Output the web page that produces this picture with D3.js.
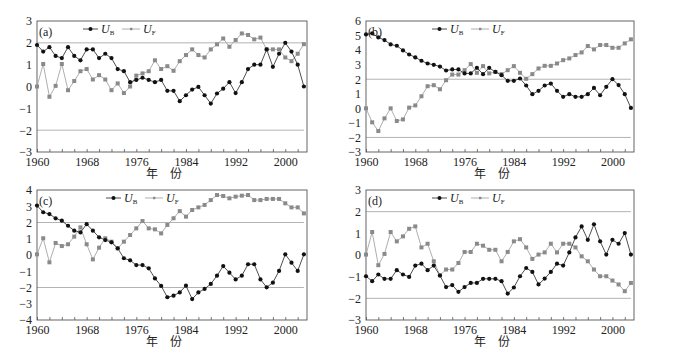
<!DOCTYPE html>
<html>
<head>
<meta charset="UTF-8">
<title>UB UF</title>
<script src="https://cdn.jsdelivr.net/npm/d3@7/dist/d3.min.js"></script>
<style>
  body { margin: 0; background: #fff; }
  svg { display: block; }
  .tick text { fill: #222; }
  .tick line { stroke: #555; stroke-width: 0.8px; }
  .domain { display: none; }
  .frame { fill: none; stroke: #555; stroke-width: 0.9px; }
  .ref { stroke: #aaa; stroke-width: 0.9px; }
  .ub { fill: none; stroke: #222; stroke-width: 0.8px; }
  .uf { fill: none; stroke: #999; stroke-width: 0.8px; }
</style>
</head>
<body>
<div id="chart"></div>
<script>
// years 1960-2003
var years = d3.range(1960, 2004);
var xTickLabels = [1960, 1968, 1976, 1984, 1992, 2000];

var aUB = [1.9, 1.6, 1.8, 1.4, 1.3, 1.8, 1.4, 1.2, 1.7, 1.7, 1.3, 1.5, 1.3, 0.8, 0.7, 0.2, 0.3, 0.4, 0.3, 0.2, 0.3, -0.2,
  -0.2, -0.67, -0.4, -0.14, -0.02, -0.4, -0.78, -0.32, -0.1, 0.2, -0.3, 0.2, 0.8, 1.0, 1.0, 1.7, 0.9, 1.5, 2.0, 1.6, 1.0, 0.0];
var aUF = [0, 1.03, -0.47, 0.03, 1.03, -0.17, 0.25, 0.7, 0.8, 0.32, 0.52, 0.32, -0.17, 0.14, -0.3, 0.0, 0.5, 0.6, 0.7, 1.2, 0.8, 0.93,
  0.72, 1.16, 1.44, 1.7, 1.44, 1.33, 1.7, 1.93, 2.2, 1.82, 2.13, 2.43, 2.36, 2.16, 2.24, 1.7, 1.7, 1.7, 1.33, 1.16, 1.5, 1.94];

var bUB = [5.08, 5.15, 4.87, 4.69, 4.39, 4.3, 3.98, 3.7, 3.5, 3.27, 3.08, 2.99, 2.87, 2.6, 2.67, 2.67, 2.4, 2.4, 2.78, 2.35, 2.78, 2.5,
  2.28, 1.89, 1.89, 2.05, 1.57, 0.97, 1.2, 1.57, 1.7, 1.2, 0.79, 0.97, 0.79, 0.79, 0.97, 1.4, 0.9, 1.48, 2.0, 1.6, 0.97, 0.03];
var bUF = [0, -0.96, -1.56, -0.69, 0, -0.87, -0.76, 0.05, 0.2, 0.83, 1.52, 1.59, 1.31, 1.93, 2.32, 2.32, 2.62, 3.04, 2.44, 2.9, 2.4, 2.5,
  2.35, 2.62, 2.9, 2.44, 2.03, 2.35, 2.74, 2.92, 2.92, 3.08, 3.31, 3.43, 3.66, 3.84, 4.28, 4.05, 4.35, 4.35, 4.16, 4.16, 4.46, 4.74];

var cUB = [3.04, 2.63, 2.52, 2.26, 2.11, 1.8, 1.5, 1.39, 1.9, 1.5, 1.09, 0.92, 0.78, 0.41, -0.2, -0.33, -0.62, -0.62, -0.82, -1.44, -1.9, -2.6,
  -2.5, -2.3, -1.89, -2.71, -2.3, -2.09, -1.78, -1.27, -0.68, -1.09, -1.5, -1.27, -0.57, -0.57, -1.5, -1.99, -1.7, -0.98, 0.04, -0.47, -0.98, 0.04];
var cUF = [0.04, 1.03, -0.45, 0.74, 0.55, 0.66, 1.13, 1.7, 0.66, -0.27, 0.45, 1.03, 0.82, 0.41, 0.82, 1.23, 1.64, 2.09, 1.64, 1.58, 1.33, 1.85,
  2.26, 2.7, 2.36, 2.77, 2.93, 3.08, 3.38, 3.69, 3.63, 3.49, 3.59, 3.65, 3.69, 3.38, 3.38, 3.45, 3.45, 3.45, 3.18, 2.93, 2.93, 2.56];

var dUB = [-0.98, -1.21, -0.9, -1.1, -1.1, -0.7, -0.9, -1.01, -0.49, -0.4, -0.7, -0.49, -0.95, -1.48, -1.39, -1.7, -1.48, -1.29, -1.29, -1.1, -1.1, -1.1,
  -1.21, -1.78, -1.5, -0.98, -0.6, -0.78, -1.36, -1.09, -0.78, -0.4, -0.49, 0.12, 0.81, 1.32, 0.7, 1.42, 0.63, 0.02, 0.7, 0.52, 1.01, 0.02];
var dUF = [0.02, 1.06, -0.47, 0.05, 1.06, 0.63, 0.86, 1.21, 1.32, 0.35, 0.52, -0.29, -0.93, -0.67, -0.67, -0.37, 0.14, 0.14, 0.52, 0.43, 0.24, 0.24,
  -0.29, 0.14, 0.63, 0.73, 0.35, -0.18, 0.02, 0.12, 0.52, 0.12, 0.52, 0.52, 0.35, -0.06, -0.29, -0.67, -0.98, -0.98, -1.18, -1.36, -1.67, -1.29];

var width = 697;
var height = 356;
var serif = "'Liberation Serif', 'DejaVu Serif', serif";

var svg = d3.select("#chart").append("svg")
  .attr("width", width)
  .attr("height", height);

function drawPanel(p) {
  var g = svg.append("g").attr("transform", "translate(" + p.left + "," + p.top + ")");
  var w = p.w, h = p.h;

  var x = d3.scaleLinear().domain([1960, 2003.5]).range([0, w]);
  var y = d3.scaleLinear().domain(p.yDomain).range([h, 0]);

  // +/-2 reference lines
  g.selectAll(".ref").data([2, -2]).enter().append("line")
    .attr("class", "ref")
    .attr("x1", x(1960)).attr("x2", x(2003))
    .attr("y1", function(d) { return y(d); })
    .attr("y2", function(d) { return y(d); });

  g.append("rect").attr("class", "frame")
    .attr("width", w).attr("height", h);

  g.append("g")
    .attr("transform", "translate(0," + h + ")")
    .style("font-family", serif).style("font-size", "12px")
    .call(d3.axisBottom(x)
      .tickValues(d3.range(1960, 2004, 2))
      .tickSizeInner(-3).tickSizeOuter(0).tickPadding(5)
      .tickFormat(function(d) { return xTickLabels.indexOf(d) >= 0 ? d : ""; }))
    .attr("font-family", null).attr("font-size", null);

  g.append("g")
    .style("font-family", serif).style("font-size", "12px")
    .call(d3.axisLeft(y)
      .tickValues(d3.range(p.yDomain[0], p.yDomain[1] + 1))
      .tickSize(0).tickPadding(5)
      .tickFormat(function(d) { return d < 0 ? "\u2212" + Math.abs(d) : d; }))
    .attr("font-family", null).attr("font-size", null);

  var line = d3.line()
    .x(function(d, i) { return x(years[i]); })
    .y(function(d) { return y(d); });

  g.append("path").attr("class", "uf").attr("d", line(p.uf));
  g.append("path").attr("class", "ub").attr("d", line(p.ub));

  g.selectAll(".ufp").data(p.uf).enter().append("rect")
    .attr("x", function(d, i) { return x(years[i]) - 2; })
    .attr("y", function(d) { return y(d) - 2; })
    .attr("width", 4).attr("height", 4)
    .attr("fill", "#8a8a8a");

  g.selectAll(".ubp").data(p.ub).enter().append("circle")
    .attr("cx", function(d, i) { return x(years[i]); })
    .attr("cy", function(d) { return y(d); })
    .attr("r", 2.1)
    .attr("fill", "#111");

  // panel label
  g.append("text")
    .attr("x", 2).attr("y", 15)
    .style("font-family", serif).style("font-size", "12px")
    .attr("fill", "#222")
    .text(p.label);

  // legend
  var lg = g.append("g").attr("transform", "translate(" + p.legendX + ",8)");
  lg.append("line").attr("x1", 0).attr("x2", 15).attr("y1", 0).attr("y2", 0)
    .attr("stroke", "#222").attr("stroke-width", 0.8);
  lg.append("circle").attr("cx", 7.5).attr("cy", 0).attr("r", 2).attr("fill", "#111");
  var t1 = lg.append("text").attr("x", 18).attr("y", 4)
    .style("font-family", serif).style("font-size", "12px").style("font-style", "italic").attr("fill", "#222");
  t1.append("tspan").text("U");
  t1.append("tspan").attr("dy", 2).style("font-size", "7px").style("font-style", "normal").text("B");

  lg.append("line").attr("x1", 39).attr("x2", 57).attr("y1", 0).attr("y2", 0)
    .attr("stroke", "#999").attr("stroke-width", 0.8);
  lg.append("rect").attr("x", 47).attr("y", -1.2).attr("width", 2.4).attr("height", 2.4).attr("fill", "#8a8a8a");
  var t2 = lg.append("text").attr("x", 60).attr("y", 4)
    .style("font-family", serif).style("font-size", "12px").style("font-style", "italic").attr("fill", "#222");
  t2.append("tspan").text("U");
  t2.append("tspan").attr("dy", 2).style("font-size", "7px").style("font-style", "normal").text("F");

  // x axis title
  g.append("text")
    .attr("x", w / 2 - 8).attr("y", h + 26)
    .attr("text-anchor", "middle")
    .style("font", "12px 'Noto Sans CJK SC', sans-serif")
    .attr("fill", "#222")
    .text("年\u3000份");
}

drawPanel({ left: 37, top: 21, w: 270, h: 131, yDomain: [-3, 3], ub: aUB, uf: aUF, label: "(a)", legendX: 46 });
drawPanel({ left: 366, top: 21, w: 268, h: 131, yDomain: [-3, 6], ub: bUB, uf: bUF, label: "(b)", legendX: 66 });
drawPanel({ left: 37, top: 190, w: 270, h: 130, yDomain: [-4, 4], ub: cUB, uf: cUF, label: "(c)", legendX: 69 });
drawPanel({ left: 366, top: 190, w: 268, h: 130, yDomain: [-3, 3], ub: dUB, uf: dUF, label: "(d)", legendX: 66 });
</script>
</body>
</html>
